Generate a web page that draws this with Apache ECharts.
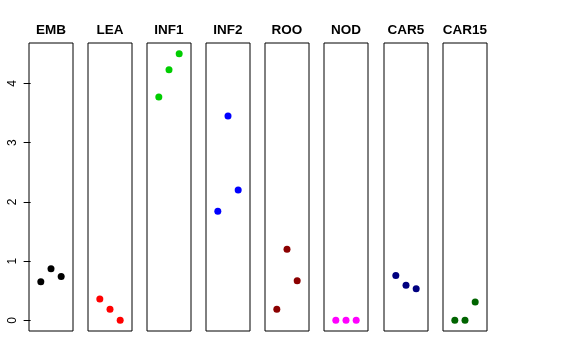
<!DOCTYPE html>
<html><head><meta charset="utf-8">
<script src="https://cdn.jsdelivr.net/npm/echarts@6/dist/echarts.min.js"></script>
<style>html,body{margin:0;padding:0;background:#fff}#c{width:576px;height:360px}</style>
</head><body><div id="c"></div>
<script>
const panels = ["EMB","LEA","INF1","INF2","ROO","NOD","CAR5","CAR15"];
const colors = ["#000000","#FF0000","#00CD00","#0000FF","#8B0000","#FF00FF","#000080","#006400"];
const xPos = [1,2,3];
const EMB = [0.65,0.87,0.74];
const LEA = [0.36,0.185,0.0];
const INF1 = [3.77,4.23,4.50];
const INF2 = [1.84,3.45,2.20];
const ROO = [0.185,1.20,0.67];
const NOD = [0.0,0.0,0.0];
const CAR5 = [0.755,0.59,0.535];
const CAR15 = [0.0,0.0,0.31];
const values = [EMB,LEA,INF1,INF2,ROO,NOD,CAR5,CAR15];
const yTicks = [0,1,2,3,4];

const chart = echarts.init(document.getElementById('c'));
const lefts = [29,88,147,206,265,324,384,443];
const W = 44, TOP = 43, H = 288;
const grid=[], xAxis=[], yAxis=[], series=[], graphic=[];
panels.forEach((p,i)=>{
  grid.push({left:lefts[i], top:TOP, width:W, height:H, show:true, borderColor:'#000', borderWidth:1, backgroundColor:'transparent'});
  xAxis.push({gridIndex:i, type:'value', min:-0.16, max:4.16, show:false});
  yAxis.push({gridIndex:i, type:'value', min:-0.18, max:4.68,
    axisLine:{show:false}, splitLine:{show:false},
    axisTick:{show:i===0, length:7, lineStyle:{color:'#000'}, customValues:yTicks},
    axisLabel:{show:i===0, rotate:90, margin:10, color:'#000', fontSize:12, fontFamily:'Liberation Sans', customValues:yTicks}
  });
  series.push({type:'scatter', xAxisIndex:i, yAxisIndex:i, symbolSize:7,
    itemStyle:{color:colors[i], opacity:1},
    data: xPos.map((x,j)=>[x, values[i][j]]), silent:true, animation:false});
  graphic.push({type:'text', x:lefts[i]+W/2, y:30,
    style:{text:p, textAlign:'center', textVerticalAlign:'middle', font:'bold 13.5px "Liberation Sans"', fill:'#000'}});
});
chart.setOption({animation:false, grid, xAxis, yAxis, series, graphic});
</script></body></html>
